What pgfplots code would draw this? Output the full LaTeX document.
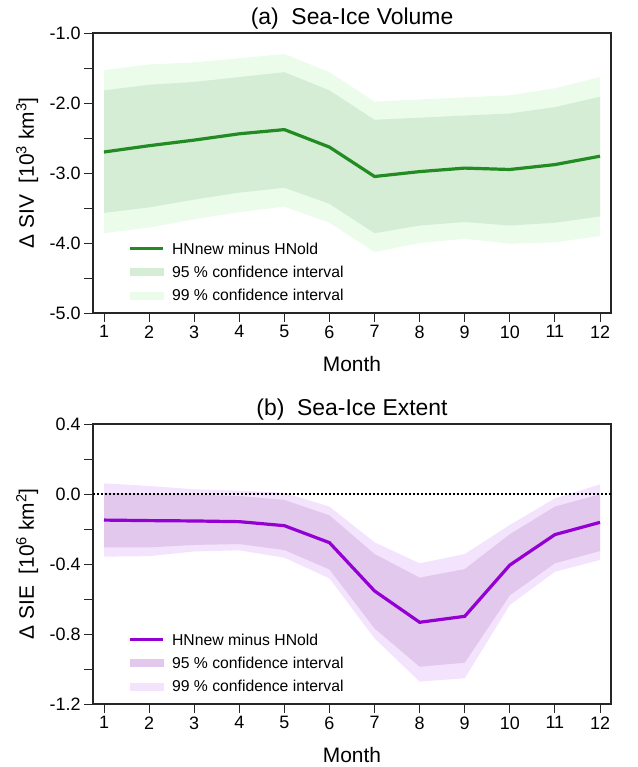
\documentclass[border=0pt]{standalone}
\usepackage{fontspec}
\setmainfont{Liberation Sans}
\usepackage{pgfplots}
\pgfplotsset{compat=1.18}

\definecolor{gline}{HTML}{228B22}
\definecolor{gninefive}{HTML}{D5ECD5}
\definecolor{gninenine}{HTML}{EBFCEB}
\definecolor{pline}{HTML}{9400D3}
\definecolor{pninefive}{HTML}{E1C8EC}
\definecolor{pninenine}{HTML}{F4E3FC}

\pgfplotsset{
  panel/.style={
    scale only axis, width=518bp, height=280bp,
    xmin=0.756, xmax=12.244,
    xtick={1,2,3,4,5,6,7,8,9,10,11,12},
    xticklabels={1,2,3,4,5,6,7,8,9,10,11,12},
    tick align=outside, xtick pos=bottom, ytick pos=left,
    major tick length=9bp, minor tick length=9bp,
    minor y tick num=1,
    axis line style={line width=1.2bp, black!85},
    every tick/.style={line width=1bp, black!85},
    tick label style={font=\fontsize{18}{21}\selectfont},
    label style={font=\fontsize{21}{25}\selectfont},
    title style={font=\fontsize{23}{27}\selectfont, at={(axis description cs:0.5,1.05)}, anchor=center, yshift=-6pt},
    xlabel={Month},
    xlabel style={at={(axis description cs:0.5,-0.183)}, anchor=center},
    ylabel style={at={(axis description cs:-0.127,0.5)}, anchor=center},
    legend cell align=left,
    legend style={draw=none, fill=none, at={(0.065,0.028)}, anchor=south west,
      font=\fontsize{15.8}{18}\selectfont, row sep=8bp, inner sep=2bp,
      nodes={inner sep=2bp, text depth=0pt}},
  }
}

\begin{document}
\begin{tikzpicture}
\useasboundingbox (0,0) rectangle (638bp,-767bp);

\begin{axis}[panel, at={(93bp,-33bp)}, anchor=north west,
  ymin=-5, ymax=-1,
  ytick={-5,-4,-3,-2,-1},
  yticklabels={-5.0,-4.0,-3.0,-2.0,-1.0},
  title={(a)\ \ Sea-Ice Volume},
  ylabel={Δ SIV\ \ [10\textsuperscript{3} km\textsuperscript{3}]},
]
% 99 % band: upper (months 1-12), then lower (months 12-1)
\addplot[fill=gninenine, draw=none, forget plot] coordinates {
 (1,-1.53) (2,-1.45) (3,-1.42) (4,-1.36) (5,-1.30) (6,-1.56)
 (7,-1.98) (8,-1.95) (9,-1.92) (10,-1.89) (11,-1.79) (12,-1.63)
 (12,-3.90) (11,-3.99) (10,-4.01) (9,-3.94) (8,-4.00) (7,-4.13)
 (6,-3.71) (5,-3.48) (4,-3.56) (3,-3.66) (2,-3.78) (1,-3.86)} -- cycle;
% 95 % band
\addplot[fill=gninefive, draw=none, forget plot] coordinates {
 (1,-1.82) (2,-1.74) (3,-1.70) (4,-1.63) (5,-1.56) (6,-1.82)
 (7,-2.24) (8,-2.21) (9,-2.18) (10,-2.15) (11,-2.06) (12,-1.91)
 (12,-3.62) (11,-3.71) (10,-3.75) (9,-3.70) (8,-3.75) (7,-3.86)
 (6,-3.44) (5,-3.21) (4,-3.28) (3,-3.38) (2,-3.49) (1,-3.57)} -- cycle;
\addplot[gline, line width=3.2bp, forget plot] coordinates {
 (1,-2.70) (2,-2.61) (3,-2.53) (4,-2.44) (5,-2.38) (6,-2.63)
 (7,-3.05) (8,-2.98) (9,-2.93) (10,-2.95) (11,-2.88) (12,-2.76)};
\addlegendimage{legend image code/.code={\draw[gline, line width=3.2bp] (0bp,0bp) -- (33bp,0bp);}}
\addlegendentry{\hspace{5bp}HNnew minus HNold}
\addlegendimage{legend image code/.code={\fill[gninefive] (0bp,-3.5bp) rectangle (33bp,3.5bp);}}
\addlegendentry{\hspace{5bp}95 \% confidence interval}
\addlegendimage{legend image code/.code={\fill[gninenine] (0bp,-3.5bp) rectangle (33bp,3.5bp);}}
\addlegendentry{\hspace{5bp}99 \% confidence interval}
\end{axis}

\begin{axis}[panel, at={(93bp,-424bp)}, anchor=north west,
  ymin=-1.2, ymax=0.4,
  ytick={-1.2,-0.8,-0.4,0,0.4},
  yticklabels={-1.2,-0.8,-0.4,0.0,0.4},
  title={(b)\ \ Sea-Ice Extent},
  ylabel={Δ SIE\ \ [10\textsuperscript{6} km\textsuperscript{2}]},
]
\addplot[fill=pninenine, draw=none, forget plot] coordinates {
 (1,0.061) (2,0.046) (3,0.027) (4,0.019) (5,0.007) (6,-0.072)
 (7,-0.276) (8,-0.396) (9,-0.343) (10,-0.177) (11,-0.025) (12,0.055)
 (12,-0.377) (11,-0.444) (10,-0.634) (9,-1.053) (8,-1.072) (7,-0.825)
 (6,-0.482) (5,-0.364) (4,-0.322) (3,-0.328) (2,-0.355) (1,-0.358)} -- cycle;
\addplot[fill=pninefive, draw=none, forget plot] coordinates {
 (1,0.007) (2,0.000) (3,-0.004) (4,-0.011) (5,-0.034) (6,-0.122)
 (7,-0.343) (8,-0.478) (9,-0.429) (10,-0.230) (11,-0.072) (12,-0.002)
 (12,-0.326) (11,-0.396) (10,-0.579) (9,-0.964) (8,-0.987) (7,-0.768)
 (6,-0.431) (5,-0.320) (4,-0.286) (3,-0.291) (2,-0.305) (1,-0.305)} -- cycle;
\addplot[black, line width=1.3bp, dash pattern=on 1.5bp off 2.5bp, forget plot] coordinates {(0.756,0) (12.244,0)};
\addplot[pline, line width=3.2bp, forget plot] coordinates {
 (1,-0.149) (2,-0.152) (3,-0.154) (4,-0.158) (5,-0.181) (6,-0.278)
 (7,-0.554) (8,-0.733) (9,-0.699) (10,-0.406) (11,-0.232) (12,-0.162)};
\addlegendimage{legend image code/.code={\draw[pline, line width=3.2bp] (0bp,0bp) -- (33bp,0bp);}}
\addlegendentry{\hspace{5bp}HNnew minus HNold}
\addlegendimage{legend image code/.code={\fill[pninefive] (0bp,-3.5bp) rectangle (33bp,3.5bp);}}
\addlegendentry{\hspace{5bp}95 \% confidence interval}
\addlegendimage{legend image code/.code={\fill[pninenine] (0bp,-3.5bp) rectangle (33bp,3.5bp);}}
\addlegendentry{\hspace{5bp}99 \% confidence interval}
\end{axis}
\end{tikzpicture}
\end{document}
